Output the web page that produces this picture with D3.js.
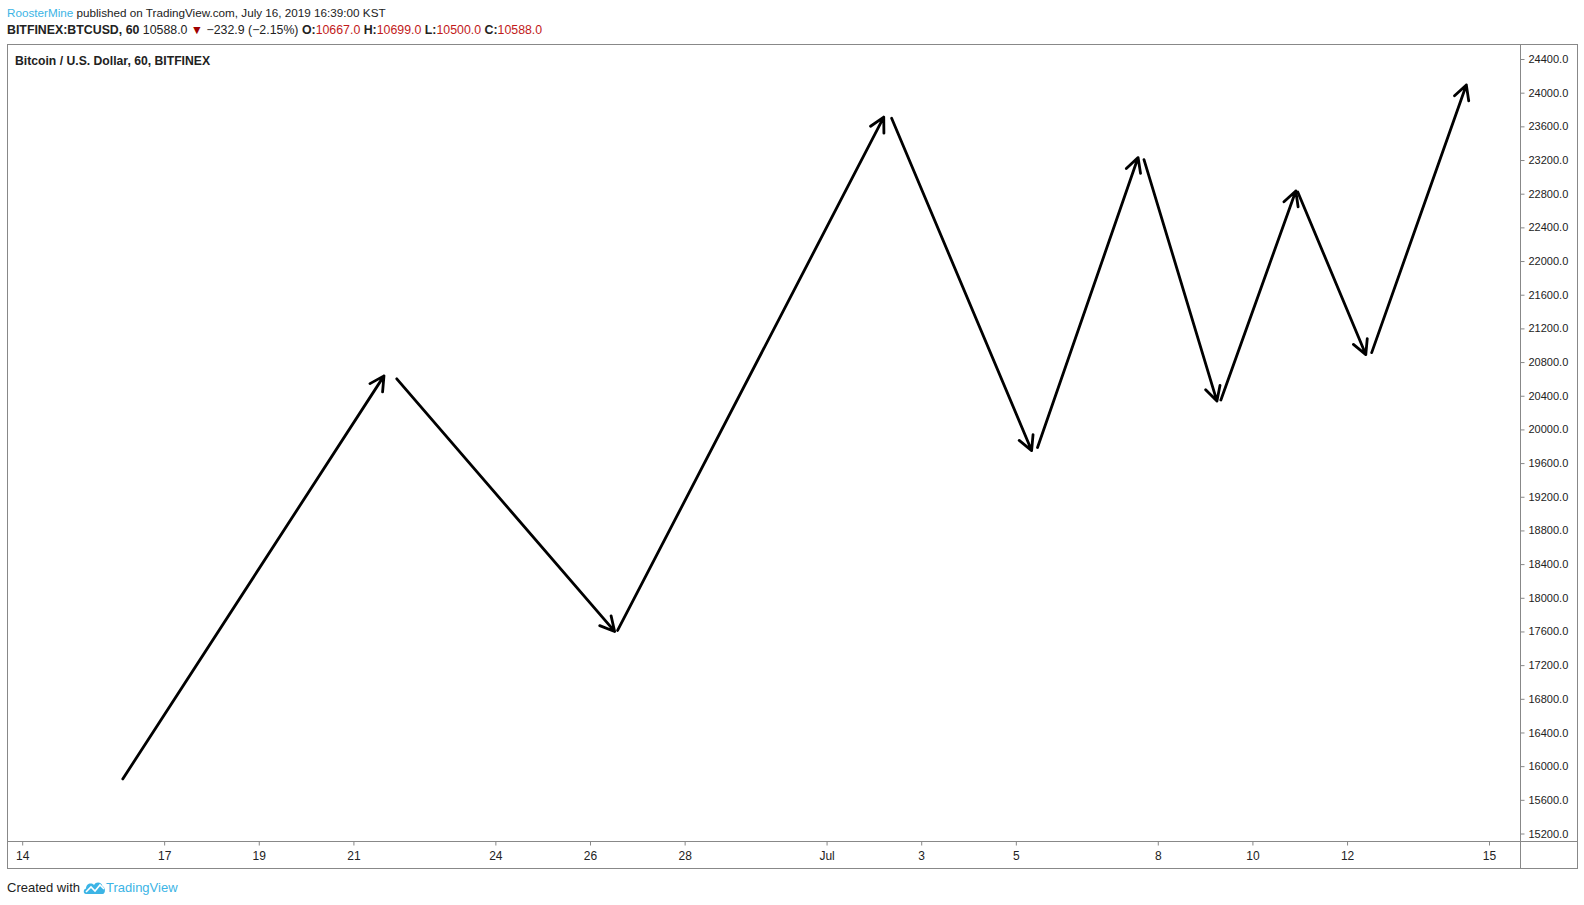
<!DOCTYPE html>
<html><head><meta charset="utf-8">
<script src="https://cdn.jsdelivr.net/npm/d3@7"></script>
<style>body{margin:0;background:#fff;} svg{display:block}</style>
</head><body><svg id="c" width="1584" height="905"></svg>
<script>
// ---- data ----
const arrowStartTime  = ["2019-06-16T03:00","2019-06-21T22:00","2019-06-26T14:00","2019-07-02T09:00","2019-07-05T11:00","2019-07-07T17:00","2019-07-09T08:00","2019-07-10T23:00","2019-07-12T12:30"];
const arrowStartPrice = [15848, 20601, 17612, 23697, 19785, 23205, 20349, 22821, 20912];
const arrowEndTime    = ["2019-06-21T15:30","2019-06-26T12:30","2019-07-02T05:00","2019-07-05T08:00","2019-07-07T14:00","2019-07-09T06:00","2019-07-10T22:00","2019-07-12T09:30","2019-07-14T12:30"];
const arrowEndPrice   = [20636, 17600, 23709, 19749, 23229, 20337, 22833, 20889, 24092];
const priceTicks = [15200,15600,16000,16400,16800,17200,17600,18000,18400,18800,19200,19600,20000,20400,20800,21200,21600,22000,22400,22800,23200,23600,24000,24400];
const dateTicks = ["2019-06-14","2019-06-17","2019-06-19","2019-06-21","2019-06-24","2019-06-26","2019-06-28","2019-07-01","2019-07-03","2019-07-05","2019-07-08","2019-07-10","2019-07-12","2019-07-15"];
const dateTickLabels = ["14","17","19","21","24","26","28","Jul","3","5","8","10","12","15"];
const domainDates = ["2019-06-14","2019-07-15"];
const priceDomain = [15200, 24400];

// ---- layout ----
const L = 7.5, T = 44.5, PR = 1520.5, R = 1577.5, PB = 841.5, B = 868.5;
const FRAME = "#888";
const NARROW = "'Liberation Sans Narrow','Arial Narrow','Liberation Sans',sans-serif";
const TXT = "#222";
const BLUE = "#3cb4e5";
const RED = "#c21a1a";

const parse = s => new Date(s + (s.length === 10 ? "T00:00:00Z" : ":00Z"));
const svg = d3.select("#c");

const x = d3.scaleUtc().domain(domainDates.map(parse)).range([22.2, 1489]);
const y = d3.scaleLinear().domain(priceDomain).range([833.5, 59]);

// frame
svg.append("rect").attr("x", L).attr("y", T).attr("width", R - L).attr("height", B - T)
  .attr("fill", "none").attr("stroke", FRAME).attr("stroke-width", 1);
svg.append("line").attr("x1", PR).attr("x2", PR).attr("y1", T).attr("y2", B).attr("stroke", FRAME);
svg.append("line").attr("x1", L).attr("x2", R).attr("y1", PB).attr("y2", PB).attr("stroke", FRAME);

// y axis
const yAxis = d3.axisRight(y).tickValues(priceTicks).tickFormat(d => d.toFixed(1)).tickSize(4).tickPadding(4);
const gy = svg.append("g").attr("transform", `translate(${PR},0)`).call(yAxis);
gy.select(".domain").remove();
gy.selectAll(".tick line").attr("stroke", FRAME);
gy.selectAll(".tick text").attr("fill", TXT).style("font-family", "'Liberation Sans',Arial,sans-serif").style("font-size", "11px");

// x axis
const xAxis = d3.axisBottom(x).tickValues(dateTicks.map(parse))
  .tickFormat((d, i) => dateTickLabels[i]).tickSize(4).tickPadding(6);
const gx = svg.append("g").attr("transform", `translate(0,${PB})`).call(xAxis);
gx.select(".domain").remove();
gx.selectAll(".tick line").attr("stroke", FRAME);
gx.selectAll(".tick text").attr("fill", TXT).style("font-family", NARROW).style("font-size", "12px");

// arrows
const arrows = arrowStartTime.map((t, i) => ({
  x1: x(parse(t)), y1: y(arrowStartPrice[i]),
  x2: x(parse(arrowEndTime[i])), y2: y(arrowEndPrice[i])
}));
const HL = 16, HA = 28 * Math.PI / 180;
const ga = svg.append("g").attr("fill", "none").attr("stroke", "#000").attr("stroke-width", 2.8)
  .attr("stroke-linecap", "round").attr("stroke-linejoin", "round");
arrows.forEach(a => {
  const ang = Math.atan2(a.y2 - a.y1, a.x2 - a.x1);
  const p = d3.path();
  p.moveTo(a.x1, a.y1); p.lineTo(a.x2, a.y2);
  p.moveTo(a.x2 - HL * Math.cos(ang - HA), a.y2 - HL * Math.sin(ang - HA));
  p.lineTo(a.x2, a.y2);
  p.lineTo(a.x2 - HL * Math.cos(ang + HA), a.y2 - HL * Math.sin(ang + HA));
  ga.append("path").attr("d", p.toString());
});

// header
const h1 = svg.append("text").attr("x", 7).attr("y", 17).style("font-family", NARROW).style("font-size", "11.7px").attr("fill", TXT);
h1.append("tspan").attr("fill", BLUE).text("RoosterMine");
h1.append("tspan").text(" published on TradingView.com, July 16, 2019 16:39:00 KST");

const h2 = svg.append("text").attr("x", 7).attr("y", 34).style("font-family", NARROW).style("font-size", "12.35px").attr("fill", TXT);
h2.append("tspan").attr("font-weight", "bold").text("BITFINEX:BTCUSD, 60");
h2.append("tspan").text(" 10588.0 ");
h2.append("tspan").attr("fill", "#a00000").text("▼");
h2.append("tspan").text(" −232.9 (−2.15%) ");
h2.append("tspan").attr("font-weight", "bold").text("O:");
h2.append("tspan").attr("fill", RED).text("10667.0");
h2.append("tspan").attr("font-weight", "bold").text(" H:");
h2.append("tspan").attr("fill", RED).text("10699.0");
h2.append("tspan").attr("font-weight", "bold").text(" L:");
h2.append("tspan").attr("fill", RED).text("10500.0");
h2.append("tspan").attr("font-weight", "bold").text(" C:");
h2.append("tspan").attr("fill", RED).text("10588.0");

svg.append("text").attr("x", 15).attr("y", 65).style("font-family", NARROW).style("font-size", "12.2px")
  .attr("font-weight", "bold").attr("fill", TXT).text("Bitcoin / U.S. Dollar, 60, BITFINEX");

// footer
svg.append("text").attr("x", 7).attr("y", 892).style("font-family", NARROW).style("font-size", "13px")
  .attr("fill", TXT).text("Created with");
const logo = svg.append("g").attr("transform", "translate(83,880)");
logo.append("path").attr("fill", BLUE)
  .attr("d", "M3,14 C0,14 0,9 3,8.5 C3,4 8,2 11,5 C13,1 19,2 19.5,6.5 C22.5,6.5 23,14 19.5,14 Z");
logo.append("path").attr("fill", "none").attr("stroke", "#fff").attr("stroke-width", 1.6)
  .attr("d", "M3,12 L8,7 L12,11 L17,5 L21,9");
svg.append("text").attr("x", 106).attr("y", 892).style("font-family", NARROW).style("font-size", "13px")
  .attr("fill", BLUE).text("TradingView");
</script>
</body></html>
